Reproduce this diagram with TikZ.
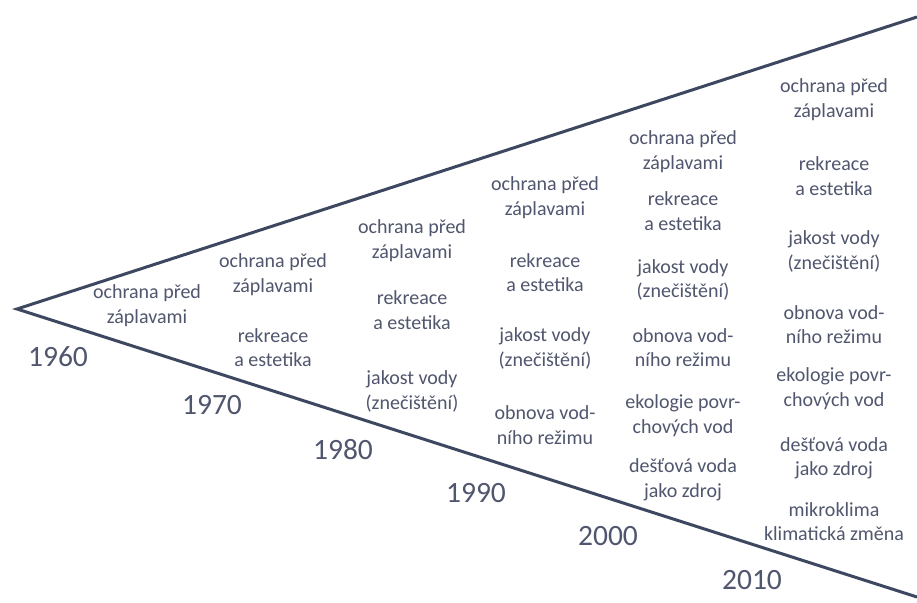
\documentclass[tikz,border=0pt]{standalone}
\usepackage{fontspec}
\setmainfont{Carlito}
\definecolor{linec}{RGB}{62,71,96}
\definecolor{textc}{RGB}{80,86,110}
\begin{document}
\begin{tikzpicture}[x=1pt,y=-1pt,
  lbl/.style={text=textc,align=center,inner sep=0pt,font=\fontsize{20}{24.5}\selectfont},
  yr/.style={text=textc,inner sep=0pt,font=\fontsize{29.5}{31}\selectfont}]
\useasboundingbox[fill=white] (0,0) rectangle (917,602);
\coordinate (apex) at (17,309);
\coordinate (tr) at (917,17);
\coordinate (br) at (917,597);
\draw[linec,line width=3pt,line join=miter] (tr) -- (apex) -- (br);
% 1960
\node[lbl] (a1) at (147,305.5) {ochrana před\\záplavami};
\node[yr] (y1960) at (58,357) {1960};
% 1970
\node[lbl] (b1) at (273,274.5) {ochrana před\\záplavami};
\node[lbl] (b2) at (273,347.5) {rekreace\\a estetika};
\node[yr] (y1970) at (212,405) {1970};
% 1980
\node[lbl] (c1) at (412,240.5) {ochrana před\\záplavami};
\node[lbl] (c2) at (412,310) {rekreace\\a estetika};
\node[lbl] (c3) at (412,391.5) {jakost vody\\(znečištění)};
\node[yr] (y1980) at (343,450) {1980};
% 1990
\node[lbl] (d1) at (545,197.5) {ochrana před\\záplavami};
\node[lbl] (d2) at (545,272.5) {rekreace\\a estetika};
\node[lbl] (d3) at (545,348.5) {jakost vody\\(znečištění)};
\node[lbl] (d4) at (545,425) {obnova vod-\\ního režimu};
\node[yr] (y1990) at (476,493) {1990};
% 2000
\node[lbl] (e1) at (683,151.5) {ochrana před\\záplavami};
\node[lbl] (e2) at (683,211) {rekreace\\a estetika};
\node[lbl] (e3) at (683,280) {jakost vody\\(znečištění)};
\node[lbl] (e4) at (683,347.5) {obnova vod-\\ního režimu};
\node[lbl] (e5) at (683,415.5) {ekologie povr-\\chových vod};
\node[lbl] (e6) at (683,480) {dešťová voda\\jako zdroj};
\node[yr] (y2000) at (608,536) {2000};
% 2010
\node[lbl] (f1) at (834,99.5) {ochrana před\\záplavami};
\node[lbl] (f2) at (834,176) {rekreace\\a estetika};
\node[lbl] (f3) at (834,251.5) {jakost vody\\(znečištění)};
\node[lbl] (f4) at (834,324.5) {obnova vod-\\ního režimu};
\node[lbl] (f5) at (834,388.5) {ekologie povr-\\chových vod};
\node[lbl] (f6) at (834,458.5) {dešťová voda\\jako zdroj};
\node[lbl] (f7) at (834,521.5) {mikroklima\\klimatická změna};
\node[yr] (y2010) at (752,580) {2010};
\end{tikzpicture}
\end{document}
